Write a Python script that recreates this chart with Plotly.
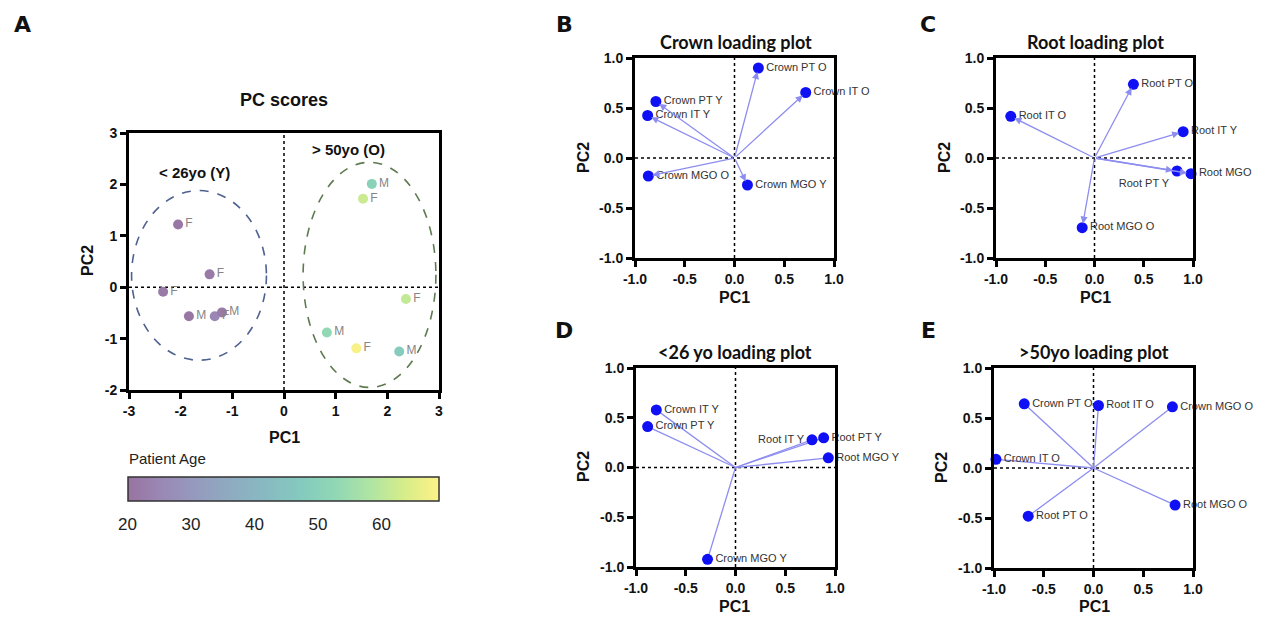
import plotly.graph_objects as go

# ---------------- data ----------------
# Panel A: PC scores
score_pc1 = [-2.05, -1.44, -2.34, -1.84, -1.34, -1.20, 1.70, 1.53, 2.36, 0.83, 1.40, 2.23]
score_pc2 = [1.22, 0.25, -0.09, -0.565, -0.565, -0.49, 2.01, 1.72, -0.23, -0.88, -1.19, -1.25]
score_sex = ["F", "F", "F", "M", "F", "M", "M", "F", "F", "M", "F", "M"]
score_age = [21, 22, 22, 21, 25, 22, 50, 62, 61, 53, 68, 48]
age_ticks = [20, 30, 40, 50, 60]

# Panel B: Crown loadings
crown_names = ["Crown PT O", "Crown IT O", "Crown PT Y", "Crown IT Y", "Crown MGO O", "Crown MGO Y"]
crown_pc1 = [0.24, 0.716, -0.79, -0.873, -0.866, 0.13]
crown_pc2 = [0.90, 0.655, 0.565, 0.425, -0.18, -0.27]

# Panel C: Root loadings
root_names = ["Root PT O", "Root IT O", "Root IT Y", "Root PT Y", "Root MGO Y", "Root MGO O"]
root_pc1 = [0.395, -0.85, 0.90, 0.838, 0.98, -0.125]
root_pc2 = [0.737, 0.417, 0.263, -0.13, -0.157, -0.697]

# Panel D: <26 yo loadings
young_names = ["Crown IT Y", "Crown PT Y", "Root IT Y", "Root PT Y", "Root MGO Y", "Crown MGO Y"]
young_pc1 = [-0.796, -0.883, 0.769, 0.886, 0.933, -0.281]
young_pc2 = [0.579, 0.411, 0.278, 0.298, 0.097, -0.923]

# Panel E: >50 yo loadings
old_names = ["Crown PT O", "Root IT O", "Crown MGO O", "Crown IT O", "Root MGO O", "Root PT O"]
old_pc1 = [-0.696, 0.05, 0.793, -0.98, 0.82, -0.656]
old_pc2 = [0.642, 0.625, 0.612, 0.087, -0.371, -0.482]

load_ticks = [-1.0, -0.5, 0.0, 0.5, 1.0]
load_ticktext = ["-1.0", "-0.5", "0.0", "0.5", "1.0"]
score_xticks = [-3, -2, -1, 0, 1, 2, 3]
score_xtext = ["-3", "-2", "-1", "0", "1", "2", "3"]
score_yticks = [-2, -1, 0, 1, 2, 3]
score_ytext = ["-2", "-1", "0", "1", "2", "3"]

# ---------------- style ----------------
OFF = 8  # page body margin in the browser
W, H = 1261, 618 - OFF
TICKFONT = dict(family="Liberation Sans, Arial", size=14, color="#111", weight="bold")
LABFONT = dict(family="Liberation Sans, Arial", size=11, color="#333")
PT_BLUE = "#1010f5"
LINE_BLUE = "#8d8df0"

viridis = ["#440154", "#482878", "#3e4989", "#31688e", "#26828e",
           "#1f9e89", "#35b779", "#6ece58", "#b5de2b", "#fde725"]


def blend(hexc, a=0.55):
    r, g, b = int(hexc[1:3], 16), int(hexc[3:5], 16), int(hexc[5:7], 16)
    f = lambda c: int(round(c * a + 255 * (1 - a)))
    return "#%02x%02x%02x" % (f(r), f(g), f(b))


cscale = [[i / (len(viridis) - 1), blend(c)] for i, c in enumerate(viridis)]


def px(x):
    return (x - OFF) / W


def py(y):
    return 1 - (y - OFF) / H


fig = go.Figure()

# panel domains (screen pixels)
dom = {
    "": ((129, 439), (133, 390)),
    "2": ((635, 834), (58, 258)),
    "3": ((996, 1193), (58, 258)),
    "4": ((636, 835), (368, 567)),
    "5": ((994, 1193), (368, 568)),
}

for k, ((xa, xb), (ya, yb)) in dom.items():
    is_score = (k == "")
    axx = dict(domain=[px(xa), px(xb)], anchor="y" + k,
               range=[-3, 3] if is_score else [-1, 1],
               tickvals=score_xticks if is_score else load_ticks,
               ticktext=score_xtext if is_score else load_ticktext,
               ticks="outside", ticklen=6, tickwidth=2.5, tickcolor="black",
               showline=True, linewidth=3, linecolor="black", mirror=True,
               showgrid=False, zeroline=False, tickfont=TICKFONT, fixedrange=True,
               automargin=False)
    axy = dict(domain=[py(yb), py(ya)], anchor="x" + k,
               range=[-2, 3] if is_score else [-1, 1],
               tickvals=score_yticks if is_score else load_ticks,
               ticktext=score_ytext if is_score else load_ticktext,
               ticks="outside", ticklen=6, tickwidth=2.5, tickcolor="black",
               showline=True, linewidth=3, linecolor="black", mirror=True,
               showgrid=False, zeroline=False, tickfont=TICKFONT, fixedrange=True,
               automargin=False)
    fig.layout["xaxis" + k] = axx
    fig.layout["yaxis" + k] = axy

shapes = []
# dotted zero lines
for k in dom:
    xr = "x" + k
    yr = "y" + k
    shapes.append(dict(type="line", xref=xr, yref=yr + " domain", x0=0, x1=0, y0=0, y1=1,
                       line=dict(color="black", width=1.5, dash="dot"), layer="below"))
    shapes.append(dict(type="line", xref=xr + " domain", yref=yr, x0=0, x1=1, y0=0, y1=0,
                       line=dict(color="black", width=1.5, dash="dot"), layer="below"))

# ellipses in panel A
shapes.append(dict(type="circle", xref="x", yref="y", x0=-2.95, x1=-0.34, y0=-1.42, y1=1.88,
                   line=dict(color="#4d6290", width=1.6, dash="dash")))
shapes.append(dict(type="circle", xref="x", yref="y", x0=0.37, x1=2.94, y0=-1.95, y1=2.43,
                   line=dict(color="#5e7a50", width=1.6, dash="dash")))

# ---------------- panel A trace ----------------
fig.add_trace(go.Scatter(
    x=score_pc1, y=score_pc2, mode="markers+text", text=score_sex,
    textposition="middle right", textfont=dict(family="Liberation Sans, Arial", size=12, color="#858585"),
    marker=dict(size=10, color=score_age, colorscale=cscale, cmin=20, cmax=69,
                showscale=True,
                colorbar=dict(orientation="h", x=px(283), xanchor="center",
                              y=py(477), yanchor="top", lenmode="pixels", len=311,
                              thickness=24, xpad=0, ypad=0,
                              outlinecolor="#333", outlinewidth=1.5,
                              tickvals=age_ticks, ticks="outside", ticklen=8,
                              tickcolor="rgba(0,0,0,0)", tickwidth=1,
                              tickfont=dict(family="Liberation Sans, Arial", size=17, color="#222"))),
    xaxis="x", yaxis="y", showlegend=False, cliponaxis=False, hoverinfo="skip"))

annotations = []


def add_loading(k, xs, ys, names, positions, arrows):
    xr, yr = "x" + k, "y" + k
    if arrows:
        for x, y in zip(xs, ys):
            annotations.append(dict(x=x, y=y, ax=0, ay=0, xref=xr, yref=yr, axref=xr, ayref=yr,
                                    text="", showarrow=True, arrowhead=2, arrowsize=1.1,
                                    arrowwidth=1.3, arrowcolor=LINE_BLUE, standoff=4))
    else:
        lx, ly = [], []
        for x, y in zip(xs, ys):
            lx += [0, x, None]
            ly += [0, y, None]
        fig.add_trace(go.Scatter(x=lx, y=ly, mode="lines", line=dict(color=LINE_BLUE, width=1.3),
                                 xaxis=xr, yaxis=yr, showlegend=False, hoverinfo="skip"))
    fig.add_trace(go.Scatter(x=xs, y=ys, mode="markers+text", text=names,
                             textposition=positions, textfont=LABFONT,
                             marker=dict(size=11, color=PT_BLUE),
                             xaxis=xr, yaxis=yr, showlegend=False, cliponaxis=False,
                             hoverinfo="skip"))


R = "middle right"
add_loading("2", crown_pc1, crown_pc2, crown_names, [R] * 6, True)
add_loading("3", root_pc1, root_pc2, root_names, [R, R, R, "bottom left", R, R], True)
add_loading("4", young_pc1, young_pc2, young_names, [R, R, "middle left", R, R, R], False)
add_loading("5", old_pc1, old_pc2, old_names, [R] * 6, False)

# ---------------- text annotations ----------------


def txt(x, y, s, size, family=None, weight="bold", angle=0, xanchor="center", color="#111"):
    f = dict(family=family or "Liberation Sans, Arial", size=size, color=color, weight=weight)
    annotations.append(dict(x=px(x), y=py(y), xref="paper", yref="paper", text=s, showarrow=False,
                            font=f, textangle=angle, xanchor=xanchor, yanchor="middle"))


# panel letters
for (x, y, s) in [(22, 24, "A"), (564, 24, "B"), (928, 24, "C"), (564, 330, "D"), (928, 330, "E")]:
    txt(x, y, s, 22, family="DejaVu Sans", weight="bold")

# titles
txt(284, 100, "PC scores", 18)
TF = "Lato, Open Sans"
txt(736, 42, "Crown loading plot", 18, family=TF)
txt(1095, 42, "Root loading plot", 18, family=TF)
txt(735, 352, "<26 yo loading plot", 18, family=TF)
txt(1094, 352, ">50yo loading plot", 18, family=TF)

# axis titles
txt(284, 437, "PC1", 16)
txt(88, 261, "PC2", 16, angle=-90)
for (cx, bx, ly, lcy) in [(735, 583, 297, 158), (1095, 944, 297, 158),
                          (735, 583, 606, 467), (1094, 942, 606, 468)]:
    txt(cx, ly, "PC1", 16)
    txt(bx, lcy, "PC2", 16, angle=-90)

# group labels in panel A
annotations.append(dict(x=-1.73, y=2.24, xref="x", yref="y", text="< 26yo (Y)", showarrow=False,
                        font=dict(family="Liberation Sans, Arial", size=15, color="#111", weight="bold")))
annotations.append(dict(x=1.24, y=2.68, xref="x", yref="y", text="> 50yo (O)", showarrow=False,
                        font=dict(family="Liberation Sans, Arial", size=15, color="#111", weight="bold")))

# colorbar title
txt(127, 458, "Patient Age", 15, weight="normal", xanchor="left", color="#222")

fig.update_layout(width=W, height=H, margin=dict(l=0, r=0, t=0, b=0, autoexpand=False),
                  paper_bgcolor="white", plot_bgcolor="white",
                  shapes=shapes, annotations=annotations, showlegend=False)

fig.write_html("out.html")
